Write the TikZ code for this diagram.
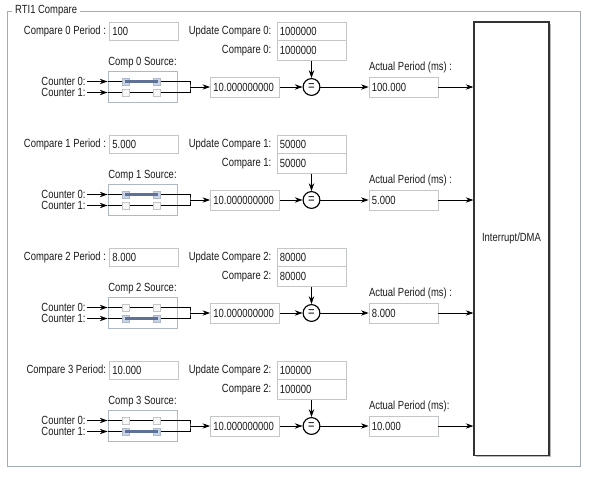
\documentclass[tikz,border=0pt]{standalone}
\usepackage{fontspec}
\setmainfont{Liberation Sans}[FakeStretch=0.8]
\usepackage{tikz}
\usetikzlibrary{arrows.meta,positioning,shadows}
\definecolor{framegray}{HTML}{A3ABB5}
\definecolor{fieldgray}{HTML}{C3C7CB}
\definecolor{srcgray}{HTML}{AEB8C8}
\definecolor{chkblue}{HTML}{C9D4E6}
\definecolor{barblue}{HTML}{5E7297}
\definecolor{txtgray}{HTML}{1C1C1C}

\begin{document}
\begin{tikzpicture}[x=0.025cm,y=-0.025cm,>={Stealth[length=5.5pt,width=3.8pt]},
    font=\fontsize{8.4}{9}\selectfont,text=txtgray,line width=0.6pt,
    field/.style={draw=fieldgray,fill=white,text width=1.58cm,inner xsep=2pt,inner ysep=0pt,align=left,minimum height=0.5cm},
    short/.style={minimum height=0.45cm},
    lbl/.style={inner sep=0pt},
    flow/.style={->,black},
    src/.style={draw=srcgray,fill=white,minimum width=1.725cm,minimum height=0.775cm,inner sep=0pt},
    chk0/.style={draw=gray!45,fill=gray!6,minimum size=0.18cm,inner sep=0pt,line width=0.4pt},
    chk1/.style={chk0,draw=srcgray,fill=chkblue},
    bar/.style={barblue,line width=1.5pt,line cap=rect},
    eqc/.style={circle,draw=black,fill=white,minimum size=0.42cm,inner sep=0pt,line width=0.8pt,font=\fontsize{10}{10}\selectfont},
    dmabox/.style={draw=black!80,fill=white,line width=0.8pt,minimum width=1.875cm,minimum height=10.825cm,drop shadow={opacity=0.55,shadow xshift=0.05cm,shadow yshift=-0.05cm}}]
  \useasboundingbox[fill=white] (0,0) rectangle (603,480);
  \draw[framegray] (7,11) rectangle (580,466);
  \node[lbl,fill=white,inner xsep=2pt,anchor=west] (title) at (12,11) {RTI1 Compare};
  \node[dmabox] (dma) at (511.5,238.5) {Interrupt/DMA};

  \foreach \i/\k/\per/\cv/\act/\sel/\pc in {0/0/100/1000000/100.000/0/~:,1/1/5.000/50000/5.000/0/~:,2/2/8.000/80000/8.000/1/~:,3/2/10.000/100000/10.000/1/:}{
    \pgfmathsetmacro\dy{\i*113}
    \node[field,short] (per\i) at (144,31+\dy) {\per};
    \node[lbl,left=2pt of per\i] (perl\i) {Compare \i\ Period\pc};
    \node[field,short] (upd\i) at (311.5,31+\dy) {\cv};
    \node[lbl,left=3.5pt of upd\i] (updl\i) {Update Compare \k:};
    \node[field,below=0pt of upd\i] (cmp\i) {\cv};
    \node[lbl,left=3.5pt of cmp\i] (cmpl\i) {Compare \k:};

    \node[src] (src\i) at (142.5,87+\dy) {};
    \node[lbl,above=2pt of src\i] (srcl\i) {Comp \i\ Source:};
    \node[lbl,anchor=east] (c0\i) at (86,81.5+\dy) {Counter 0:};
    \node[lbl,anchor=east] (c1\i) at (86,92.5+\dy) {Counter 1:};
    \draw[flow] ([xshift=1pt]c0\i.east) -- (c0\i -| src\i.west);
    \draw[flow] ([xshift=1pt]c1\i.east) -- (c1\i -| src\i.west);
    \draw (src\i.west |- c0\i) -- (src\i.east |- c0\i);
    \draw (src\i.west |- c1\i) -- (src\i.east |- c1\i);
    \coordinate (jn\i) at (190,87+\dy);
    \draw (src\i.east |- c0\i) -| (jn\i) |- (src\i.east |- c1\i);
    \foreach \r in {0,1}{
      \pgfmathtruncatemacro\on{\r==\sel}
      \foreach \cx/\c in {126/a,157/b}
        \node[chk\on] (k\i\r\c) at (\cx,81.5+11*\r+\dy) {};
    }
    \draw[bar] (k\i\sel a.center) -- (k\i\sel b.center);

    \node[field] (val\i) at (245,87+\dy) {10.000000000};
    \node[eqc] (eq\i) at (cmp\i |- val\i) {=};
    \node[field] (act\i) at (403.5,87+\dy) {\act};
    \node[lbl,above=2pt of act\i.north west,anchor=south west] (actl\i) {Actual Period (ms)\pc};
    \draw[flow] (jn\i) -- (val\i);
    \draw[flow] (val\i) -- (eq\i);
    \draw[flow] (cmp\i) -- (eq\i);
    \draw[flow] (eq\i) -- (act\i);
    \draw[flow] (act\i) -- (act\i -| dma.west);
  }
\end{tikzpicture}
\end{document}
